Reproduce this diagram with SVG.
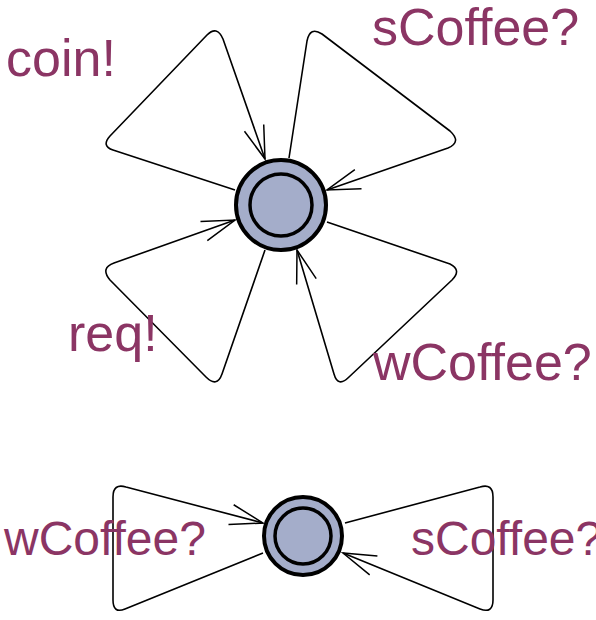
<svg xmlns="http://www.w3.org/2000/svg" width="596" height="620" viewBox="0 0 596 620">
<style>
.e{fill:none;stroke:#000;stroke-width:1.6;stroke-linejoin:round;marker-end:url(#a)}
.o{fill:#a4adca;stroke:#000;stroke-width:4}
.i{fill:none;stroke:#000;stroke-width:3.5}
.t{font-family:"Liberation Sans",Arial,sans-serif;fill:#8b3564}
</style>
<defs>
<marker id="a" markerWidth="40" markerHeight="24" refX="34" refY="12" orient="auto" markerUnits="userSpaceOnUse" overflow="visible">
<path d="M1,1.8 L34,12 L1,22.2" fill="none" stroke="#000" stroke-width="1.5"/>
</marker>
</defs>
<rect width="596" height="620" fill="#fff"/>
<g id="connectors">
<path class="e" d="M235,190 L113,150 Q101,146 110,136 L207,35 Q217,25 223,39 L265,159"/>
<path class="e" d="M289,158 L307,41 Q310,26 322,34 L450,131 Q462,142 448,148 L327,190"/>
<path class="e" d="M265,250 L222,374 Q217,388 206,377 L110,280 Q100,268 114,263 L235,220"/>
<path class="e" d="M327,222 L450,264 Q462,270 452,280 L349,377 Q338,388 334,374 L297,250"/>
<path class="e" d="M263,553 L125,609 Q113,614 113,600 L113,497 Q113,483 126,487 L263,523"/>
<path class="e" d="M345,523 L480,487 Q493,483 493,497 L493,600 Q493,614 480,609 L343,553"/>
</g>
<g id="node1">
<circle class="o" cx="281" cy="205" r="45"/>
<circle class="i" cx="281" cy="205" r="31"/>
</g>
<g id="node2">
<circle class="o" cx="303" cy="536" r="39"/>
<circle class="i" cx="303" cy="536" r="28"/>
</g>
<g id="labels">
<text class="t" x="6" y="76" font-size="52">coin!</text>
<text class="t" x="372" y="45" font-size="52">sCoffee?</text>
<text class="t" x="68" y="351" font-size="52">req!</text>
<text class="t" x="373" y="380" font-size="52">wCoffee?</text>
<text class="t" x="4" y="555" font-size="48">wCoffee?</text>
<text class="t" x="411" y="555" font-size="48">sCoffee?</text>
</g>
</svg>
